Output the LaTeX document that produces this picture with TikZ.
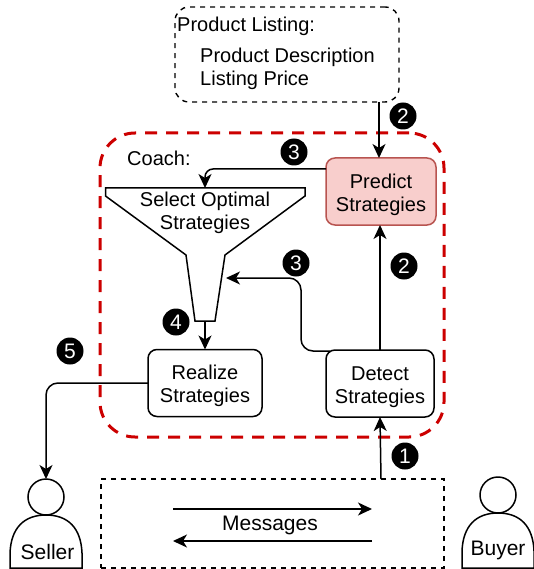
\documentclass[tikz,border=0pt]{standalone}
\usepackage{fontspec}
\setmainfont{Liberation Sans}
\usetikzlibrary{arrows.meta}
\newcommand{\lowline}{\rule{0pt}{21pt}}
\tikzset{
  txt/.style={font=\fontsize{20}{23}\selectfont, align=center, inner sep=0pt},
  bigtxt/.style={font=\fontsize{21}{23}\selectfont, align=center, inner sep=0pt},
  stratbox/.style={txt, draw, line width=1.5pt, rounded corners=9pt, outer sep=0pt},
  dashbox/.style={draw, line width=1.4pt, dash pattern=on 5pt off 5pt, outer sep=0pt},
  badge/.style={circle, fill=black, text=white, minimum size=27pt, inner sep=0pt, font=\fontsize{21}{21}\selectfont},
  arr/.style={line width=1.5pt, -{Stealth[length=14pt,width=13pt,inset=4pt]}},
}
\definecolor{coachred}{HTML}{CC0000}
\definecolor{predfill}{HTML}{F8CECC}
\definecolor{preddraw}{HTML}{B85450}
\begin{document}
\begin{tikzpicture}[x=1pt, y=-1pt]
\useasboundingbox (0,0) rectangle (534,569);

\node[dashbox, rounded corners=14pt, minimum width=224pt, minimum height=95pt] (listing) at (287,54.5) {};
\node[txt, anchor=west] (listingTitle) at (177,26) {Product Listing:};
\node[txt, anchor=west] (listingDesc) at (200,57) {Product Description};
\node[txt, anchor=west] (listingPrice) at (200,80) {Listing Price};

\node[draw=coachred, line width=3pt, dash pattern=on 12pt off 9pt, rounded corners=35pt, minimum width=344pt, minimum height=304pt, outer sep=0pt] (coach) at (272,285) {};
\node[txt, anchor=west] (coachLabel) at (127,158) {Coach:};

\node[stratbox, draw=preddraw, fill=predfill, minimum width=110pt, minimum height=67pt] (predict) at (381,191.5) {\lowline Predict\\Strategies};
\node[stratbox, minimum width=108pt, minimum height=67pt] (detect) at (380,383.5) {\lowline Detect\\Strategies};
\node[stratbox, minimum width=114pt, minimum height=67pt] (realize) at (205,383) {\lowline Realize\\Strategies};

\draw[line width=1.5pt, line join=miter] (105.5,188) -- (305,188) -- (305,196) -- (225,255) -- (215,321) -- (195,321) -- (186,255) -- (105.5,196) -- cycle;
\node[txt] (funnel) at (205,213) {Select Optimal\\Strategies};
\coordinate (funnelTop) at (205,188);
\coordinate (funnelTip) at (205,321);
\coordinate (funnelSide) at (226,278);

\node[dashbox, minimum width=343pt, minimum height=89pt] (messages) at (272.5,523.5) {};
\node[bigtxt] (messagesLabel) at (270,525) {Messages};
\coordinate (msgRightA) at (173,509);
\coordinate (msgRightB) at (372,509);
\coordinate (msgLeftA) at (372,541);
\coordinate (msgLeftB) at (173,541);

\node[draw, circle, line width=1.5pt, minimum size=36pt, inner sep=0pt, outer sep=0pt] (sellerHead) at (46,497) {};
\draw[line width=1.5pt] (10,568) -- (10,553) .. controls (11,528) and (24,515) .. (46,515) .. controls (68,515) and (81,528) .. (82,553) -- (82,568) -- cycle;
\node[bigtxt] (seller) at (47.5,552) {Seller};
\node[draw, circle, line width=1.5pt, minimum size=36pt, inner sep=0pt, outer sep=0pt] (buyerHead) at (498,495) {};
\draw[line width=1.5pt] (462,568) -- (462,551) .. controls (463,526) and (476,513) .. (498,513) .. controls (520,513) and (533,526) .. (534,551) -- (534,568) -- cycle;
\node[bigtxt] (buyer) at (498,550) {Buyer};

\coordinate (listingOut) at (379,102);
\coordinate (predictIn) at (379,158);
\coordinate (predictOut) at (326,169);
\coordinate (detectOut) at (330,351);
\coordinate (detectUp) at (380,350);
\coordinate (predictLow) at (380,225);
\coordinate (messagesOut) at (381,479);

\draw[arr] (listingOut) -- (predictIn);
\draw[arr, rounded corners=8pt] (predictOut) -| (funnelTop);
\draw[arr] (detectUp) -- (predictLow);
\draw[arr, rounded corners=12pt] (detectOut) -- (301,351) -- (301,278) -- (funnelSide);
\draw[arr] (funnelTip) -- (realize.north);
\draw[arr, rounded corners=12pt] (realize.west) -| (sellerHead.north);
\draw[arr] (messagesOut) -- (detect.south);
\draw[arr] (msgRightA) -- (msgRightB);
\draw[arr] (msgLeftA) -- (msgLeftB);

\node[badge] (stepOne) at (405,456) {1};
\node[badge] (stepTwoA) at (403,116) {2};
\node[badge] (stepTwoB) at (404,266) {2};
\node[badge] (stepThreeA) at (294,152) {3};
\node[badge] (stepThreeB) at (296,263) {3};
\node[badge] (stepFour) at (176,322) {4};
\node[badge] (stepFive) at (70,351) {5};
\end{tikzpicture}
\end{document}
